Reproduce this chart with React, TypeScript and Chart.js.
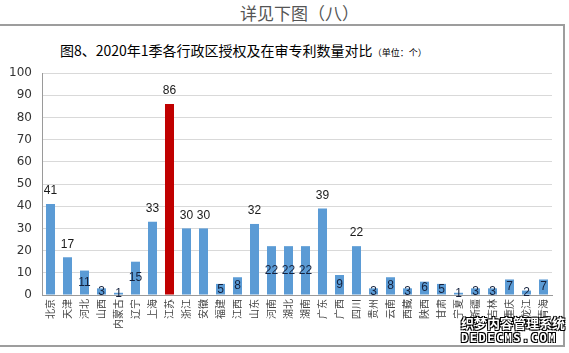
import React, { useEffect, useRef } from 'react';
import { Chart, registerables } from 'chart.js';

Chart.register(...registerables);

const categories = ['北京', '天津', '河北', '山西', '内蒙古', '辽宁', '上海', '江苏', '浙江', '安徽', '福建', '江西', '山东', '河南', '湖北', '湖南', '广东', '广西', '四川', '贵州', '云南', '西藏', '陕西', '甘肃', '宁夏', '新疆', '吉林', '重庆', '黑龙江', '青海'];
const values = [41, 17, 11, 3, 1, 15, 33, 86, 30, 30, 5, 8, 32, 22, 22, 22, 39, 9, 22, 3, 8, 3, 6, 5, 1, 3, 3, 7, 2, 7];
const highlighted = ['江苏'];
const labelsAbove = ['北京', '天津', '上海', '江苏', '浙江', '安徽', '山东', '广东', '四川'];
const yMin = 0;
const yMax = 100;
const yStep = 10;

const pageTitle = '详见下图（八）';
const chartTitle = '图8、2020年1季各行政区授权及在审专利数量对比';
const unitNote = '（单位：个）';

const valueLabelPlugin = {
  id: 'valueLabels',
  afterDatasetsDraw(chart: any) {
    const ctx = chart.ctx;
    const meta = chart.getDatasetMeta(0);
    ctx.save();
    ctx.font = '12px "Liberation Sans", Arial, sans-serif';
    ctx.textAlign = 'center';
    ctx.textBaseline = 'middle';
    meta.data.forEach((bar: any, i: number) => {
      const above = labelsAbove.includes(categories[i]);
      const y = above ? bar.y - 13 : (bar.y + bar.base) / 2;
      ctx.fillStyle = above ? '#1a1a1a' : '#14213d';
      ctx.fillText(String(values[i]), bar.x, y);
    });
    ctx.restore();
  },
};

export default function App() {
  const ref = useRef<HTMLCanvasElement>(null);
  useEffect(() => {
    if (!ref.current) return;
    const chart = new Chart(ref.current, {
      type: 'bar',
      data: {
        labels: categories,
        datasets: [
          {
            data: values,
            backgroundColor: categories.map((c) => (highlighted.includes(c) ? '#C00000' : '#5B9BD5')),
            categoryPercentage: 1,
            barPercentage: 0.53,
          },
        ],
      },
      options: {
        responsive: false,
        animation: false,
        devicePixelRatio: 1,
        layout: { padding: { top: 73, right: 17, left: 0, bottom: 0 } },
        plugins: { legend: { display: false }, tooltip: { enabled: false }, title: { display: false } },
        scales: {
          x: {
            grid: { display: false, drawTicks: false },
            border: { display: true, color: '#9a9a9a', width: 1 },
            ticks: {
              autoSkip: false,
              minRotation: 90,
              maxRotation: 90,
              padding: 4,
              color: '#444',
              font: { size: 10, family: '"Noto Sans CJK SC", sans-serif' },
            },
            afterFit(scale: any) {
              scale.height = 58;
            },
          },
          y: {
            min: yMin,
            max: yMax,
            ticks: {
              stepSize: yStep,
              padding: 10,
              color: '#333',
              font: { size: 12, family: '"DejaVu Sans", sans-serif' },
            },
            grid: { color: '#D9D9D9', drawTicks: false },
            border: { display: true, color: '#9a9a9a', width: 1 },
            afterFit(scale: any) {
              scale.width = 42;
            },
          },
        },
      },
      plugins: [valueLabelPlugin],
    });
    return () => chart.destroy();
  }, []);

  return (
    <div style={{ position: 'absolute', left: 0, top: 0, width: 569, height: 353, background: '#fff', overflow: 'hidden' }}>
      <div
        style={{
          position: 'absolute',
          left: -2,
          top: 24,
          width: 567,
          height: 323,
          border: '2px solid #9d9d9d',
          boxSizing: 'border-box',
        }}
      />
      <div
        style={{
          position: 'absolute',
          left: 240,
          top: 2,
          fontSize: 17,
          lineHeight: '22px',
          color: '#555',
          fontFamily: '"Noto Sans CJK SC", sans-serif',
          whiteSpace: 'nowrap',
        }}
      >
        {pageTitle}
      </div>
      <div
        style={{
          position: 'absolute',
          left: 60,
          top: 39,
          fontSize: 14,
          lineHeight: '22px',
          color: '#000',
          fontFamily: '"Noto Sans CJK SC", sans-serif',
          whiteSpace: 'nowrap',
        }}
      >
        {chartTitle}
        <span style={{ fontSize: 9 }}>{unitNote}</span>
      </div>
      <canvas ref={ref} width={569} height={353} style={{ position: 'absolute', left: 0, top: 0 }} />
      <div
        style={{
          position: 'absolute',
          left: 461,
          top: 315,
          fontSize: 13,
          fontWeight: 'bold',
          lineHeight: '16px',
          color: '#fff',
          fontFamily: '"Noto Sans CJK SC", sans-serif',
          textShadow: '1px 1px 0 #000, -1px -1px 0 #000, 1px -1px 0 #000, -1px 1px 0 #000',
          whiteSpace: 'nowrap',
        }}
      >
        织梦内容管理系统
      </div>
      <div
        style={{
          position: 'absolute',
          left: 461,
          top: 331,
          fontSize: 12,
          fontWeight: 'bold',
          letterSpacing: 1.5,
          lineHeight: '14px',
          color: '#fff',
          fontFamily: '"DejaVu Sans Mono", monospace',
          textShadow: '1px 1px 0 #000, -1px -1px 0 #000, 1px -1px 0 #000, -1px 1px 0 #000',
          whiteSpace: 'nowrap',
        }}
      >
        DEDECMS.COM
      </div>
    </div>
  );
}
